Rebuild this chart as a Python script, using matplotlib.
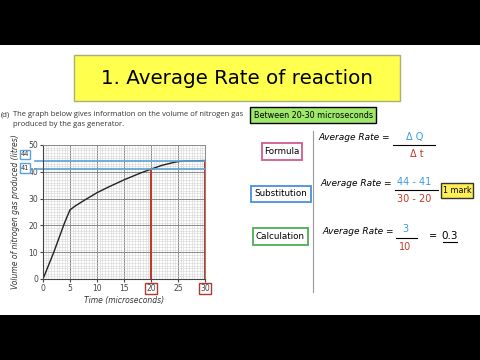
import numpy as np
import matplotlib.pyplot as plt
from matplotlib.patches import Rectangle

# data
time_us = [0, 1, 2, 3, 4, 5, 6, 8, 10, 12, 15, 18, 20, 22, 24, 25, 26, 28, 30]
volume_l = [0, 5, 10, 15.5, 21, 25.8, 27.3, 29.8, 32.2, 34.2, 37, 39.5, 41, 42.4, 43.4, 43.8, 44, 44.1, 44.2]
x_ticks = [0, 5, 10, 15, 20, 25, 30]
y_ticks = [0, 10, 20, 30, 40, 50]
t_start, t_end = 20, 30
v_start, v_end = 41, 44

W, H = 480, 360
fig = plt.figure(figsize=(4.8, 3.6), dpi=100)
fig.patch.set_facecolor("white")


def px(x, y):
    return x / W, 1 - y / H


def box(x0, y0, x1, y1, fc="none", ec="black", lw=1.0):
    fig.patches.append(Rectangle(px(x0, y1), (x1 - x0) / W, (y1 - y0) / H,
                                 transform=fig.transFigure, facecolor=fc,
                                 edgecolor=ec, linewidth=lw))


def hline(x0, x1, y, color="black", lw=0.8):
    fig.add_artist(plt.Line2D([x0 / W, x1 / W], [1 - y / H, 1 - y / H],
                              transform=fig.transFigure, color=color, lw=lw))


def txt(x, y, s, size=7, color="black", ha="center", **kw):
    fig.text(*px(x, y), s, fontsize=size, color=color, ha=ha, va="center", **kw)


# black letterbox bars
box(0, 0, 480, 45, fc="black", ec="none")
box(0, 315, 480, 360, fc="black", ec="none")

# title
box(74, 55, 400, 101, fc="#ffff4d", ec="#a8b07a", lw=1.0)
txt(237, 78, "1. Average Rate of reaction", size=14.3)

# question text
qfont = dict(family="Open Sans", color="#333333")
txt(1, 115, "(d)", size=5.5, ha="left", **qfont)
txt(13, 115, "The graph below gives information on the volume of nitrogen gas",
    size=5.5, ha="left", **qfont)
txt(13, 124, "produced by the gas generator.", size=5.5, ha="left", **qfont)

# chart
ax = fig.add_axes([43 / W, 1 - 279 / H, 162 / W, 134 / H])
ax.set_xlim(0, 30)
ax.set_ylim(0, 50)
ax.set_xticks(x_ticks)
ax.set_yticks(y_ticks)
ax.set_xticks(np.arange(0, 30.01, 0.5), minor=True)
ax.set_yticks(np.arange(0, 50.01, 1), minor=True)
ax.grid(which="minor", color="#d4d4d4", lw=0.4)
ax.grid(which="major", color="#8a8a8a", lw=0.7)
ax.set_axisbelow(True)
ax.tick_params(which="major", length=2, labelsize=5.5, labelcolor="#444444",
               color="#444444", pad=1.5)
ax.tick_params(which="minor", length=0)
for s in ["top", "right"]:
    ax.spines[s].set_color("#8a8a8a")
    ax.spines[s].set_linewidth(0.7)
for s in ["left", "bottom"]:
    ax.spines[s].set_color("#444444")
    ax.spines[s].set_linewidth(0.8)
ax.plot(time_us, volume_l, color="#222222", lw=1.0)
ax.set_xlabel("Time (microseconds)", fontsize=5.5, style="italic",
              color="#333333", labelpad=2)
ax.set_ylabel("Volume of nitrogen gas produced (litres)", fontsize=5.5,
              style="italic", color="#333333", labelpad=6)

# reading lines
ax.plot([t_start, t_start], [0, v_start], color="#c0392b", lw=1.5, clip_on=False)
ax.plot([t_end, t_end], [0, v_end], color="#c0392b", lw=1.5, clip_on=False)
for v in [v_start, v_end]:
    ax.plot([-1.5, 30], [v, v], color="#5aa2d8", lw=1.2, clip_on=False)
for lab in ax.get_xticklabels():
    if lab.get_text() in (str(t_start), str(t_end)):
        lab.set_bbox(dict(facecolor="none", edgecolor="#b03a2e", lw=1.0, pad=0.6))
box(20, 150, 29.5, 159, fc="white", ec="#5aa2d8", lw=1.0)
txt(24.8, 154.5, str(v_end), size=4.8, color="#333333")
box(20, 163, 29.5, 173, fc="white", ec="#5aa2d8", lw=1.0)
txt(24.8, 168, str(v_start), size=4.8, color="#333333")

# right side working
box(250, 107, 376, 123, fc="#9ee86a", ec="black", lw=1.0)
txt(313, 115, "Between 20-30 microseconds", size=5.8)
fig.add_artist(plt.Line2D([313 / W, 313 / W], [1 - 131 / H, 1 - 292 / H],
                          transform=fig.transFigure, color="#999999", lw=0.8))

box(262, 143, 302, 160, fc="white", ec="#d05a8e", lw=1.3)
txt(282, 151.5, "Formula", size=6.3)
box(251, 186, 311, 202, fc="white", ec="#4a90d9", lw=1.3)
txt(281, 194, "Substitution", size=6.3)
box(253, 228, 308, 245, fc="white", ec="#4caf50", lw=1.3)
txt(280.5, 236.5, "Calculation", size=6.3)

blue, red = "#3d9be0", "#c0392b"
txt(318, 138, "Average Rate =", size=6.5, ha="left", style="italic")
txt(415, 137, "Δ Q", size=7, color=blue)
hline(393, 435, 145)
txt(417, 154, "Δ t", size=7, color=red)

txt(320, 183, "Average Rate =", size=6.5, ha="left", style="italic")
txt(414, 182, f"{v_end} - {v_start}", size=7, color=blue)
hline(395, 438, 190)
txt(414, 199, f"{t_end} - {t_start}", size=7, color=red)
box(441, 183, 473, 198, fc="#ffee55", ec="#333333", lw=1.0)
txt(457, 190.5, "1 mark", size=5.8)

txt(322, 231, "Average Rate =", size=6.5, ha="left", style="italic")
txt(405, 229, str(v_end - v_start), size=7, color=blue)
hline(396, 417, 238)
txt(405, 247, str(t_end - t_start), size=7, color=red)
txt(433, 236, "=", size=7)
txt(450, 236, f"{(v_end - v_start) / (t_end - t_start):.1f}", size=7.5)
hline(443, 457, 242, lw=0.8)

fig.savefig("out.png", dpi=100)
